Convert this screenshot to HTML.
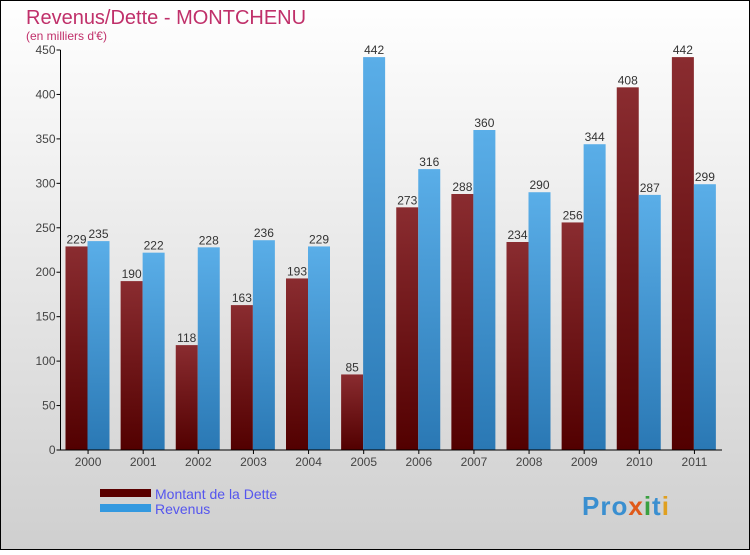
<!DOCTYPE html>
<html><head><meta charset="utf-8"><style>
html,body{margin:0;padding:0}
body{width:750px;height:550px;overflow:hidden;font-family:"Liberation Sans",sans-serif}
</style></head><body>
<svg id="chart" width="750" height="550" xmlns="http://www.w3.org/2000/svg">
<defs>
<linearGradient id="bg" x1="0" y1="0" x2="0" y2="1"><stop offset="0" stop-color="#ffffff"/><stop offset="1" stop-color="#cfcfcf"/></linearGradient>
<linearGradient id="gd" x1="0" y1="0" x2="0" y2="1"><stop offset="0" stop-color="#8a2c30"/><stop offset="1" stop-color="#520000"/></linearGradient>
<linearGradient id="gr" x1="0" y1="0" x2="0" y2="1"><stop offset="0" stop-color="#5aaee8"/><stop offset="1" stop-color="#2a78b4"/></linearGradient>
</defs>
<rect x="0.5" y="0.5" width="749" height="549" fill="url(#bg)" stroke="#000"/>
<text x="26" y="24" font-size="20" fill="#c0306a" style="font-weight:300">Revenus/Dette - MONTCHENU</text>
<text x="26" y="40" font-size="12" fill="#c0306a">(en milliers d'€)</text>
<g id="plot"></g>
<rect x="100" y="489" width="51" height="8" fill="#5a0000"/>
<rect x="100" y="504" width="51" height="8" fill="#3399e0"/>
<text x="155" y="499" font-size="14" fill="#5555ee">Montant de la Dette</text>
<text x="155" y="514" font-size="14" fill="#5555ee">Revenus</text>
<text x="582" y="515" font-size="26" font-weight="bold" fill="#3a8fd0" letter-spacing="1">Pro<tspan fill="#e05a1a">x</tspan><tspan fill="#3aa040">i</tspan>t<tspan fill="#e0a020">i</tspan></text>
</svg>
<script>
const years=["2000","2001","2002","2003","2004","2005","2006","2007","2008","2009","2010","2011"];
const dette=[229,190,118,163,193,85,273,288,234,256,408,442];
const revenus=[235,222,228,236,229,442,316,360,290,344,287,299];
const yTicks=[0,50,100,150,200,250,300,350,400,450];
const NS="http://www.w3.org/2000/svg";
const g=document.getElementById('plot');
const x0=60.5,x1=722,y0=450,ymax=450,yTop=50;
const y=v=>y0-(v/ymax)*(y0-yTop);
const gw=(x1-x0)/years.length;
const gx=i=>x0+i*gw;
function el(t,a){const e=document.createElementNS(NS,t);for(const k in a)e.setAttribute(k,a[k]);g.appendChild(e);return e;}
yTicks.forEach(v=>{
 const l=el('line',{x1:x0-4,x2:x0,y1:y(v),y2:y(v),stroke:'#000'});
 
 
 const t=el('text',{x:x0-5,y:y(v)+4,'font-size':12,fill:'#444','text-anchor':'end'});
 t.textContent=v;
 
 
});
years.forEach((yr,i)=>{
 const bx=gx(i)+5;
 const bw=22;
 const a=el('rect',{x:bx,y:y(dette[i]),width:bw,height:y0-y(dette[i]),fill:'url(#gd)'});
 
 
 const b=el('rect',{x:bx+bw,y:y(revenus[i]),width:bw,height:y0-y(revenus[i]),fill:'url(#gr)'});
 
 
 const t1=el('text',{x:bx+bw/2,y:y(dette[i])-3,'font-size':12,fill:'#333','text-anchor':'middle'});
 t1.textContent=dette[i];
 
 
 const t2=el('text',{x:bx+bw*1.5,y:y(revenus[i])-3,'font-size':12,fill:'#333','text-anchor':'middle'});
 t2.textContent=revenus[i];
 
 
 const tk=el('line',{x1:gx(i)+gw/2,x2:gx(i)+gw/2,y1:y0,y2:y0+4,stroke:'#000'});
 
 
 const xl=el('text',{x:gx(i)+gw/2,y:y0+16,'font-size':12,fill:'#444','text-anchor':'middle'});
 xl.textContent=yr;
 
 
});
const ya=el('line',{x1:x0,x2:x0,y1:yTop,y2:y0,stroke:'#000'});


const xa=el('line',{x1:x0,x2:x1,y1:y0,y2:y0,stroke:'#000'});


</script>
</body></html>
